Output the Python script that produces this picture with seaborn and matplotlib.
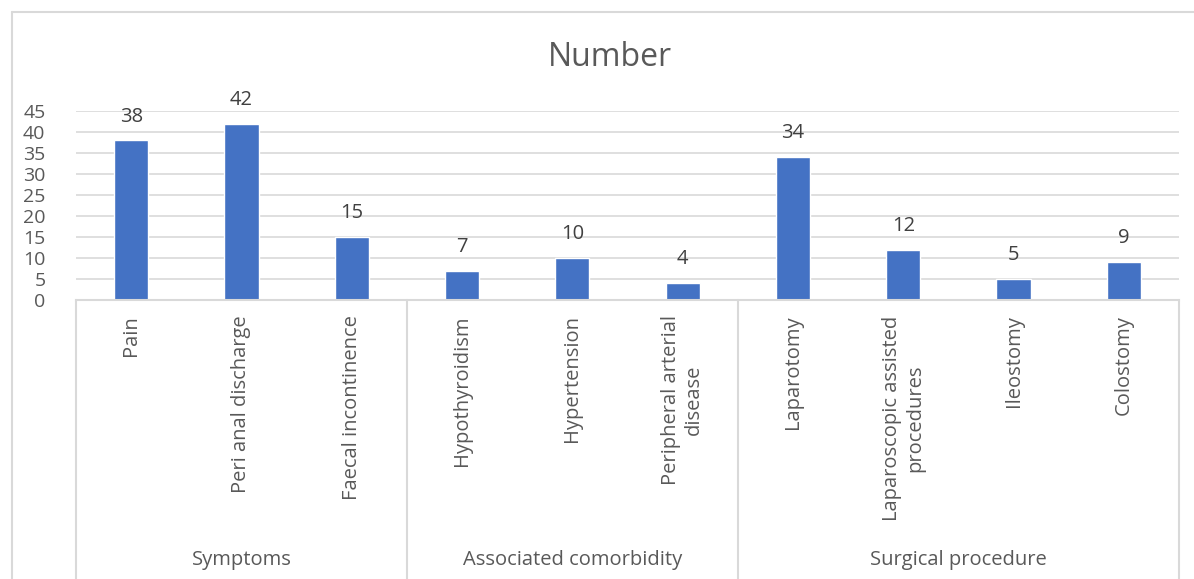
import matplotlib
matplotlib.use("Agg")
import matplotlib.pyplot as plt
import matplotlib.transforms as mtransforms
from matplotlib.lines import Line2D
import seaborn as sns
import pandas as pd

categories = ["Pain", "Peri anal discharge", "Faecal incontinence",
              "Hypothyroidism", "Hypertension", "Peripheral arterial\ndisease",
              "Laparotomy", "Laparoscopic assisted\nprocedures", "Ileostomy", "Colostomy"]
values = [38, 42, 15, 7, 10, 4, 34, 12, 5, 9]
groups = ["Symptoms", "Associated comorbidity", "Surgical procedure"]
group_sizes = [3, 3, 4]
yticks = [0, 5, 10, 15, 20, 25, 30, 35, 40, 45]
title = "Number"

sns.set_theme(style="white")
plt.rcParams['font.family'] = ['Open Sans', 'DejaVu Sans']

TXT = "#595959"
GRID = "#d9d9d9"
BAR = "#4472C4"
FS = 14.5

W, H = 1194, 579
fig = plt.figure(figsize=(W / 100, H / 100), dpi=100)
ax = fig.add_axes([76 / W, (H - 300) / H, (1179 - 76) / W, (300 - 111) / H])

df = pd.DataFrame({"category": categories, "value": values})
sns.barplot(data=df, x="category", y="value", color=BAR, width=0.31,
            saturation=1, ax=ax, order=categories)

ax.set_xlim(-0.5, len(categories) - 0.5)
ax.set_ylim(0, 45)
ax.set_yticks(yticks)
ax.set_yticklabels([str(t) for t in yticks], fontsize=14, color=TXT)
ax.tick_params(axis="y", length=0, pad=22)
ax.yaxis.grid(True, color=GRID, linewidth=1.2)
ax.set_axisbelow(True)
for s in ["left", "right", "top"]:
    ax.spines[s].set_visible(False)
ax.spines["bottom"].set_color(GRID)
ax.spines["bottom"].set_linewidth(1.5)
ax.set_xlabel("")
ax.set_ylabel("")

ax.set_xticks(range(len(categories)))
ax.set_xticklabels(categories, rotation=90, fontsize=FS, color=TXT,
                   va="top", ha="center", multialignment="center")
ax.tick_params(axis="x", length=0, pad=11)

for c in ax.containers:
    ax.bar_label(c, labels=[str(v) for v in values], padding=10,
                 fontsize=FS, color="#404040")

# multi-level axis separators and group labels
tr = mtransforms.blended_transform_factory(ax.transData, fig.transFigure)
bounds = [-0.5]
for n in group_sizes:
    bounds.append(bounds[-1] + n)
for b in bounds:
    fig.add_artist(Line2D([b, b], [0, (H - 300) / H], transform=tr,
                          color=GRID, linewidth=1.5, clip_on=False))
for i, g in enumerate(groups):
    xc = (bounds[i] + bounds[i + 1]) / 2
    fig.text(xc, (H - 560) / H, g, transform=tr, ha="center", va="center",
             fontsize=FS, color=TXT)

fig.text(610 / W, 1 - 58 / H, title, ha="center", va="center",
         fontsize=23, color=TXT)

# chart border
fig.add_artist(Line2D([12 / W, 1], [1 - 12 / H, 1 - 12 / H],
                      transform=fig.transFigure, color=GRID, linewidth=1.5))
fig.add_artist(Line2D([12 / W, 12 / W], [0, 1 - 12 / H],
                      transform=fig.transFigure, color=GRID, linewidth=1.5))

fig.savefig("out.png", dpi=100, facecolor="white")
